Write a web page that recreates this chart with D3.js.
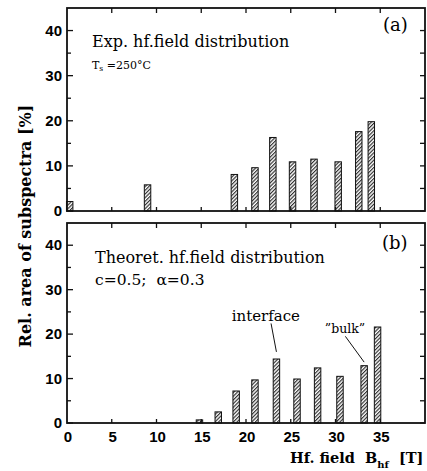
<!DOCTYPE html>
<html>
<head>
<meta charset="utf-8">
<script src="https://cdn.jsdelivr.net/npm/d3@7"></script>
<style>
body { margin: 0; background: #fff; }
.serif { font-family: "DejaVu Serif", serif; }
.tick { font-family: "Liberation Sans", Arial, sans-serif; font-weight: bold; font-size: 15px; }
</style>
</head>
<body>
<div id="chart"></div>
<script>
// hf field values (T) and relative areas (%)
var expField = [0.3, 9, 18.7, 21, 23, 25.2, 27.6, 30.3, 32.6, 34];
var expArea = [2.1, 5.8, 8.1, 9.6, 16.3, 10.9, 11.5, 10.9, 17.6, 19.8];
var theoField = [14.8, 16.9, 18.9, 21, 23.4, 25.7, 28, 30.5, 33.2, 34.7];
var theoArea = [0.7, 2.5, 7.2, 9.7, 14.4, 9.9, 12.4, 10.5, 12.9, 21.6];
var xTicks = [0, 5, 10, 15, 20, 25, 30, 35];
var yTicks = [0, 10, 20, 30, 40];
var yMinor = [5, 15, 25, 35];

var width = 427, height = 471;
var barHalf = 0.36;

var svg = d3.select("#chart").append("svg")
    .attr("width", width)
    .attr("height", height);

// hatch pattern
var pat = svg.append("defs").append("pattern")
    .attr("id", "hatch")
    .attr("patternUnits", "userSpaceOnUse")
    .attr("width", 2.6)
    .attr("height", 2.6)
    .attr("patternTransform", "rotate(45)");
pat.append("rect").attr("width", 2.6).attr("height", 2.6).style("fill", "#fff");
pat.append("line")
    .attr("x1", 0.6).attr("y1", 0).attr("x2", 0.6).attr("y2", 2.6)
    .style("stroke", "#222").style("stroke-width", 1.1);

var x = d3.scaleLinear().domain([0, 40]).range([67, 425]);

function drawPanel(top, bottom, fields, areas, showXLabels) {
    var y = d3.scaleLinear().domain([0, 45]).range([bottom, top]);
    var g = svg.append("g");
    // bars
    g.selectAll("rect.bar")
        .data(fields).enter()
        .append("rect")
        .attr("class", "bar")
        .attr("x", (d) => x(d - barHalf))
        .attr("width", (d) => x(d + barHalf) - x(d - barHalf))
        .attr("y", (d, i) => y(areas[i]))
        .attr("height", (d, i) => y(0) - y(areas[i]))
        .style("fill", "url(#hatch)")
        .style("stroke", "#111")
        .style("stroke-width", 1);
    // frame
    g.append("rect")
        .attr("x", x(0)).attr("y", top)
        .attr("width", x(40) - x(0)).attr("height", bottom - top)
        .style("fill", "none").style("stroke", "#111").style("stroke-width", 1.8);
    // x ticks, top and bottom, pointing in
    g.selectAll("line.xt")
        .data(xTicks.slice(1)).enter()
        .append("line")
        .attr("x1", (d) => x(d)).attr("x2", (d) => x(d))
        .attr("y1", top).attr("y2", top + 5)
        .style("stroke", "#111").style("stroke-width", 1.3);
    g.selectAll("line.xb")
        .data(xTicks.slice(1)).enter()
        .append("line")
        .attr("x1", (d) => x(d)).attr("x2", (d) => x(d))
        .attr("y1", bottom).attr("y2", bottom - 4)
        .style("stroke", "#111").style("stroke-width", 1.3);
    // y ticks
    var all = yTicks.concat(yMinor);
    g.selectAll("line.yl")
        .data(all).enter()
        .append("line")
        .attr("x1", x(0))
        .attr("x2", (d) => x(0) + (d % 10 == 0 ? 6 : 4))
        .attr("y1", (d) => y(d)).attr("y2", (d) => y(d))
        .style("stroke", "#111").style("stroke-width", 1.3);
    g.selectAll("line.yr")
        .data(all).enter()
        .append("line")
        .attr("x1", x(40))
        .attr("x2", x(40) - 5)
        .attr("y1", (d) => y(d)).attr("y2", (d) => y(d))
        .style("stroke", "#111").style("stroke-width", 1.3);
    // y labels
    g.selectAll("text.yl")
        .data(yTicks).enter()
        .append("text")
        .attr("class", "tick")
        .attr("text-anchor", "end")
        .attr("x", x(0) - 5)
        .attr("y", (d) => y(d) + 5)
        .text((d) => d);
    if (showXLabels) {
        g.selectAll("text.xl")
            .data(xTicks).enter()
            .append("text")
            .attr("class", "tick")
            .attr("text-anchor", "middle")
            .attr("x", (d) => x(d) + 1)
            .attr("y", bottom + 19)
            .text((d) => d);
    }
    return y;
}

var ya = drawPanel(8, 211, expField, expArea, false);
var yb = drawPanel(223, 423, theoField, theoArea, true);

// panel (a) texts
svg.append("text").attr("class", "serif")
    .attr("x", 92).attr("y", 47).style("font-size", "16px")
    .text("Exp. hf.field distribution");
var ts = svg.append("text").attr("class", "serif")
    .attr("x", 92).attr("y", 69).style("font-size", "11px");
ts.append("tspan").text("T");
ts.append("tspan").attr("dy", 2).style("font-size", "7.5px").text("s");
ts.append("tspan").attr("dy", -2).text(" =250°C");
svg.append("text").attr("class", "serif")
    .attr("x", 383).attr("y", 31).style("font-size", "18px")
    .text("(a)");

// panel (b) texts
svg.append("text").attr("class", "serif")
    .attr("x", 95).attr("y", 263).style("font-size", "16px")
    .text("Theoret. hf.field distribution");
svg.append("text").attr("class", "serif")
    .attr("x", 95).attr("y", 285).style("font-size", "15.5px")
    .attr("xml:space", "preserve")
    .text("c=0.5;  α=0.3");
svg.append("text").attr("class", "serif")
    .attr("x", 382).attr("y", 249).style("font-size", "18px")
    .text("(b)");

// annotations
svg.append("text").attr("class", "serif")
    .attr("x", x(18.4)).attr("y", yb(23)).style("font-size", "15px")
    .text("interface");
svg.append("line")
    .attr("x1", x(22.8)).attr("y1", yb(22.4))
    .attr("x2", x(23.4)).attr("y2", yb(16))
    .style("stroke", "#111").style("stroke-width", 1);
svg.append("text").attr("class", "serif")
    .attr("x", x(28.8)).attr("y", yb(20.3)).style("font-size", "12.5px")
    .text("\u201dbulk\u201d");
svg.append("line")
    .attr("x1", x(31.1)).attr("y1", yb(19.5))
    .attr("x2", x(33.2)).attr("y2", yb(13.7))
    .style("stroke", "#111").style("stroke-width", 1);

// axis titles
svg.append("text").attr("class", "serif")
    .attr("transform", "translate(31,226) rotate(-90)")
    .attr("text-anchor", "middle")
    .style("font-size", "16px").style("font-weight", "bold")
    .text("Rel. area of subspectra [%]");
var xl = svg.append("text").attr("class", "serif")
    .attr("x", 290).attr("y", 463)
    .style("font-size", "14.5px").style("font-weight", "bold")
    .attr("xml:space", "preserve");
xl.append("tspan").text("Hf. field  B");
xl.append("tspan").attr("dy", 5).style("font-size", "10px").text("hf");
xl.append("tspan").attr("dy", -5).text("  [T]");
</script>
</body>
</html>
